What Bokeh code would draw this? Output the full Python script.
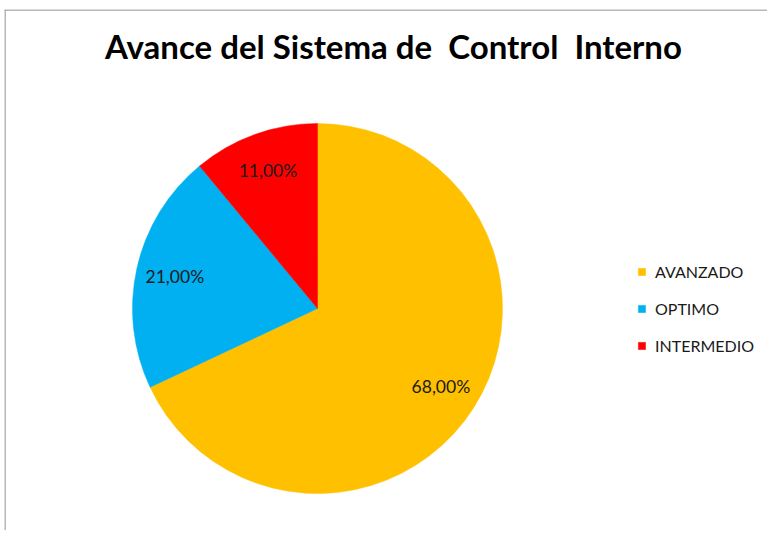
import math
from bokeh.plotting import figure
from bokeh.models import Range1d, Label, Legend, LegendItem, Span
from bokeh.embed import file_html
from bokeh.resources import INLINE

# ---- data ----
categories = ["AVANZADO", "OPTIMO", "INTERMEDIO"]
values = [68.0, 21.0, 11.0]
colors = ["#FFC000", "#00B0F0", "#FF0000"]
title_text = "Avance del Sistema de \u00a0Control \u00a0Interno"

W, H = 763, 521
CX, CY, R = 313, 222, 185

p = figure(width=W, height=H, output_backend="svg", toolbar_location=None,
           x_range=Range1d(0, W), y_range=Range1d(0, H),
           min_border=0, outline_line_color=None, background_fill_color="white",
           border_fill_color="white",
           styles={"margin-left": "4px", "margin-top": "9px"})
p.axis.visible = False
p.grid.visible = False

total = sum(values)
starts, ends, mids = [], [], []
cum = 0.0
for v in values:
    a0 = math.pi / 2 - 2 * math.pi * cum / total
    cum += v
    a1 = math.pi / 2 - 2 * math.pi * cum / total
    starts.append(a0)
    ends.append(a1)
    mids.append((a0 + a1) / 2)

items = []
for i, c in enumerate(categories):
    r = p.wedge(x=CX, y=CY, radius=R, start_angle=starts[i], end_angle=ends[i],
                direction="clock", fill_color=colors[i], line_color=colors[i], line_width=0.5)
    items.append(LegendItem(label=c, renderers=[r]))

# data labels
for i, v in enumerate(values):
    lx = CX + 0.79 * R * math.cos(mids[i])
    ly = CY + 0.79 * R * math.sin(mids[i])
    p.add_layout(Label(x=lx, y=ly, text=f"{v:.2f}%".replace(".", ","),
                       text_align="center", text_baseline="middle",
                       text_font="Lato", text_font_size="17.5px", text_color="#1a1a1a"))

p.add_layout(Label(x=389, y=H - 36, text=title_text, text_align="center",
                   text_baseline="alphabetic", text_font="Lato", text_font_style="bold",
                   text_font_size="33px", text_color="black"))

legend = Legend(items=items, location=(633, 175), orientation="vertical",
                glyph_width=9, glyph_height=9, label_height=20, spacing=17,
                label_standoff=9, padding=0, margin=0,
                border_line_color=None, background_fill_alpha=0,
                label_text_font="Lato", label_text_font_size="16px",
                label_text_color="#1a1a1a")
p.add_layout(legend)

# chart-area border (top and left edges visible)
p.add_layout(Span(location=H - 0.5, dimension="width", line_color="#a0a0a0", line_width=1.5))
p.add_layout(Span(location=0.5, dimension="height", line_color="#a0a0a0", line_width=1.5))

open("out.html", "w").write(file_html(p, INLINE))
